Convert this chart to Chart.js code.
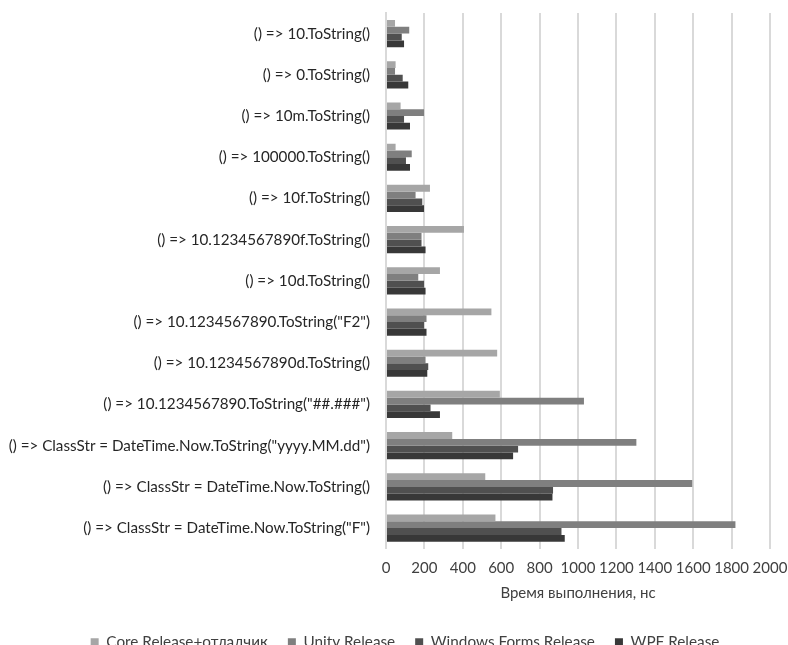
<!DOCTYPE html>
<html>
<head>
<meta charset="utf-8">
<script src="https://cdn.jsdelivr.net/npm/chart.js@4"></script>
<style>
  html, body { margin: 0; padding: 0; background: #ffffff; overflow: hidden; }
  #wrap { width: 788px; height: 660px; }
</style>
</head>
<body>
<div id="wrap"><canvas id="chart" width="788" height="660"></canvas></div>
<script>
// Benchmark categories (top to bottom)
const categories = [
  '() => 10.ToString()',
  '() => 0.ToString()',
  '() => 10m.ToString()',
  '() => 100000.ToString()',
  '() => 10f.ToString()',
  '() => 10.1234567890f.ToString()',
  '() => 10d.ToString()',
  '() => 10.1234567890.ToString("F2")',
  '() => 10.1234567890d.ToString()',
  '() => 10.1234567890.ToString("##.###")',
  '() => ClassStr = DateTime.Now.ToString("yyyy.MM.dd")',
  '() => ClassStr = DateTime.Now.ToString()',
  '() => ClassStr = DateTime.Now.ToString("F")'
];

// Execution time, ns
const coreDebugger = [47, 50, 76, 50, 229, 406, 281, 549, 579, 593, 345, 517, 570];
const unityRelease = [121, 47, 198, 134, 154, 185, 168, 211, 206, 1031, 1304, 1595, 1820];
const winFormsRelease = [82, 87, 94, 104, 189, 185, 198, 198, 220, 232, 688, 870, 914];
const wpfRelease = [94, 116, 125, 125, 198, 206, 206, 211, 215, 281, 662, 867, 931];

const seriesNames = ['Core Release+отладчик', 'Unity Release', 'Windows Forms Release', 'WPF Release'];
const xTicks = [0, 200, 400, 600, 800, 1000, 1200, 1400, 1600, 1800, 2000];
const axisTitle = 'Время выполнения, нс';

const colors = ['#a6a6a6', '#7f7f7f', '#505050', '#383838'];
const FONT = 'Lato, "Open Sans", sans-serif';

const datasets = [coreDebugger, unityRelease, winFormsRelease, wpfRelease].map((d, i) => ({
  label: seriesNames[i],
  data: d,
  backgroundColor: colors[i],
  borderWidth: 0,
  categoryPercentage: 0.66,
  barPercentage: 1.0
}));

// Centre the legend row under the plot area rather than the whole canvas
const legendShift = {
  id: 'legendShift',
  afterLayout(chart) {
    const lg = chart.legend;
    if (lg) { lg.left += 20; lg.right += 20; }
  }
};

new Chart(document.getElementById('chart'), {
  type: 'bar',
  data: { labels: categories, datasets },
  plugins: [legendShift],
  options: {
    indexAxis: 'y',
    responsive: false,
    animation: false,
    layout: { padding: { top: 13, right: 18, left: 0, bottom: 0 } },
    plugins: {
      tooltip: { enabled: false },
      legend: {
        position: 'bottom',
        labels: {
          boxWidth: 8,
          boxHeight: 8,
          padding: 20,
          color: '#404040',
          font: { family: FONT, size: 15.3 }
        }
      }
    },
    scales: {
      x: {
        min: 0,
        max: 2000,
        afterBuildTicks: (scale) => { scale.ticks = xTicks.map(v => ({ value: v })); },
        afterFit: (scale) => {
          scale.height = 66;
          scale.paddingLeft = 0;
          scale.paddingRight = 0;
        },
        grid: { color: '#d9d9d9', lineWidth: 2, drawTicks: false },
        border: { display: false },
        ticks: {
          padding: 10,
          maxRotation: 0,
          minRotation: 0,
          color: '#404040',
          font: { family: FONT, size: 15 },
          callback: (v) => String(v)
        },
        title: {
          display: true,
          text: axisTitle,
          color: '#404040',
          padding: { top: 4, bottom: 13 },
          font: { family: FONT, size: 15 }
        }
      },
      y: {
        afterFit: (scale) => {
          scale.width = 386;
          scale.paddingTop = 0;
          scale.paddingBottom = 0;
        },
        grid: { display: false, drawTicks: false },
        border: { display: true, color: '#d9d9d9', width: 2 },
        ticks: {
          padding: 16,
          color: '#262626',
          autoSkip: false,
          font: { family: FONT, size: 15.2 }
        }
      }
    }
  }
});
</script>
</body>
</html>
